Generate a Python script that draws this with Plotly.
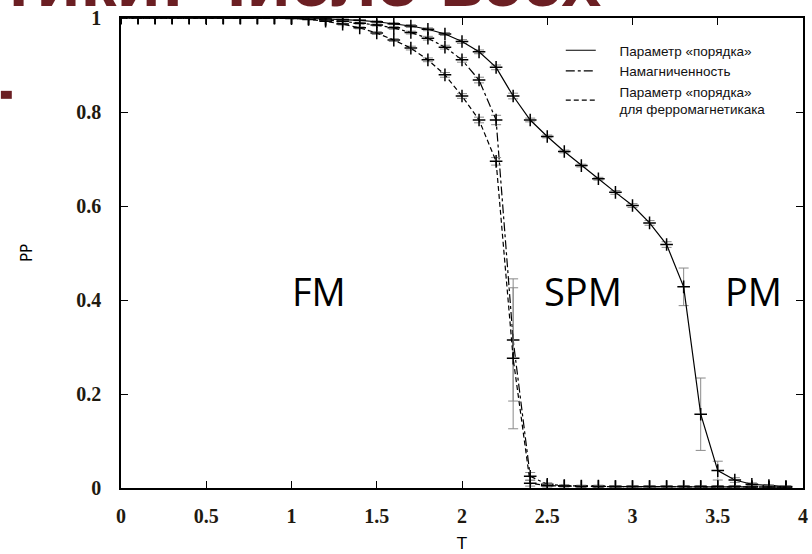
import plotly.graph_objects as go

# ---- data ----
T = [0.0, 0.1, 0.2, 0.3, 0.4, 0.5, 0.6, 0.7, 0.8, 0.9,
     1.0, 1.1, 1.2, 1.3, 1.4, 1.5, 1.6, 1.7, 1.8, 1.9,
     2.0, 2.1, 2.2, 2.3, 2.4, 2.5, 2.6, 2.7, 2.8, 2.9,
     3.0, 3.1, 3.2, 3.3, 3.4, 3.5, 3.6, 3.7, 3.8, 3.9]

order_param = [1.0, 1.0, 1.0, 1.0, 1.0, 1.0, 1.0, 1.0, 1.0, 1.0,
               1.0, 0.999, 0.998, 0.997, 0.995, 0.992, 0.988, 0.983, 0.976, 0.966,
               0.950, 0.928, 0.895, 0.834, 0.783, 0.748, 0.716, 0.686, 0.658, 0.629,
               0.601, 0.564, 0.518, 0.428, 0.157, 0.037, 0.017, 0.008, 0.005, 0.003]
order_err = [0, 0, 0, 0, 0, 0, 0, 0, 0, 0,
             0, 0, 0, 0, 0, 0.002, 0.002, 0.003, 0.003, 0.003,
             0.004, 0.004, 0.005, 0.006, 0.004, 0.003, 0.003, 0.003, 0.003, 0.004,
             0.004, 0.005, 0.006, 0.040, 0.077, 0.020, 0.005, 0.003, 0.002, 0.002]

magnetization = [1.0, 1.0, 1.0, 1.0, 1.0, 1.0, 1.0, 1.0, 1.0, 1.0,
                 1.0, 0.998, 0.996, 0.993, 0.989, 0.985, 0.979, 0.969, 0.957, 0.938,
                 0.911, 0.868, 0.783, 0.315, 0.025, 0.008, 0.005, 0.004, 0.004, 0.003,
                 0.003, 0.003, 0.003, 0.003, 0.003, 0.003, 0.003, 0.003, 0.002, 0.002]
mag_err = [0, 0, 0, 0, 0, 0, 0, 0, 0, 0,
           0, 0, 0, 0, 0.002, 0.002, 0.003, 0.003, 0.004, 0.004,
           0.005, 0.006, 0.010, 0.130, 0.008, 0.003, 0.002, 0.002, 0.002, 0.002,
           0.002, 0.002, 0.002, 0.002, 0.002, 0.002, 0.002, 0.002, 0.002, 0.002]

ferro_param = [1.0, 1.0, 1.0, 1.0, 1.0, 1.0, 1.0, 1.0, 1.0, 1.0,
               0.999, 0.997, 0.993, 0.987, 0.979, 0.968, 0.953, 0.936, 0.911, 0.879,
               0.834, 0.783, 0.695, 0.276, 0.010, 0.005, 0.004, 0.003, 0.003, 0.003,
               0.003, 0.003, 0.003, 0.003, 0.003, 0.003, 0.003, 0.002, 0.002, 0.002]
ferro_err = [0, 0, 0, 0, 0, 0, 0, 0, 0, 0,
             0, 0, 0, 0.002, 0.002, 0.003, 0.003, 0.004, 0.004, 0.005,
             0.005, 0.006, 0.008, 0.150, 0.006, 0.003, 0.002, 0.002, 0.002, 0.002,
             0.002, 0.002, 0.002, 0.002, 0.002, 0.002, 0.002, 0.002, 0.002, 0.002]

series_names = ["Параметр «порядка»", "Намагниченность",
                "Параметр «порядка»<br>для ферромагнетикака"]
region_labels = ["FM", "SPM", "PM"]
region_x = [1.16, 2.71, 3.71]
region_y = [0.42, 0.42, 0.42]
x_ticks = [0, 0.5, 1, 1.5, 2, 2.5, 3, 3.5, 4]
y_ticks = [0, 0.2, 0.4, 0.6, 0.8, 1]
heading = "тики: число всех"

W, H = 812, 554
ML, MR, MT, MB = 121, 4, 18, 65
PW, PH = W - ML - MR, H - MT - MB


def px_x(p):
    return (p - ML) / PW


def px_y(p):
    return (H - MB - p) / PH


fig = go.Figure()

dashes = ["solid", "dashdot", "5px,3px"]
ys = [order_param, magnetization, ferro_param]
errs = [order_err, mag_err, ferro_err]

for y, e, d in zip(ys, errs, dashes):
    fig.add_trace(go.Scatter(
        x=T, y=y, mode="lines+markers", showlegend=False,
        line=dict(color="black", width=1.2, dash=d),
        marker=dict(symbol="cross-thin", size=9,
                    line=dict(color="black", width=1.5)),
        error_y=dict(type="data", array=e, visible=True,
                     color="#8a8a8a", thickness=1, width=5),
        hoverinfo="skip",
    ))

pad = "\u00a0\u00a0\u00a0\u00a0\u00a0"
# legend-only traces (lines without markers, as in the reference)
for name, d in zip(series_names, dashes):
    fig.add_trace(go.Scatter(
        x=[None], y=[None], mode="lines",
        name=pad + name.replace("<br>", "<br>" + pad),
        line=dict(color="black", width=1.2, dash=d),
    ))

for lab, rx, ry in zip(region_labels, region_x, region_y):
    fig.add_annotation(x=rx, y=ry, xref="x", yref="y", text=lab,
                       showarrow=False,
                       font=dict(family="Open Sans", size=38, color="black"))

fig.add_annotation(x=px_x(-2), y=px_y(-19), xref="paper", yref="paper",
                   xanchor="left", yanchor="middle", text="<b>" + heading + "</b>",
                   showarrow=False,
                   font=dict(family="Liberation Sans", size=72, color="#6b1f23"))

fig.add_shape(type="rect", xref="paper", yref="paper",
              x0=px_x(0), x1=px_x(11), y0=px_y(99), y1=px_y(91),
              fillcolor="#6b1f23", line=dict(width=0), layer="above")

tickfont = dict(family="Liberation Serif", size=20, color="#1f1a10",
                weight="bold")

fig.update_layout(
    width=W, height=H,
    margin=dict(l=ML, r=MR, t=MT, b=MB),
    paper_bgcolor="white", plot_bgcolor="white",
    legend=dict(x=px_x(564), y=px_y(35), xanchor="left", yanchor="top",
                bgcolor="rgba(0,0,0,0)",
                font=dict(family="Liberation Sans", size=13.5, color="#111"),
                tracegroupgap=0, itemwidth=30),
    xaxis=dict(range=[0, 4], tickvals=x_ticks,
               ticktext=[f"{v:g}" for v in x_ticks],
               showgrid=False, zeroline=False, showline=True,
               linecolor="black", linewidth=1.5, mirror="ticks",
               ticks="inside", ticklen=7, tickcolor="black", tickwidth=1.3,
               tickfont=tickfont, ticklabelstandoff=9,
               title=dict(text="T", font=dict(family="DejaVu Sans", size=16,
                                              color="black"), standoff=12)),
    yaxis=dict(range=[0, 1], tickvals=y_ticks,
               ticktext=[f"{v:g}" for v in y_ticks],
               showgrid=False, zeroline=False, showline=True,
               linecolor="black", linewidth=1.5, mirror="ticks",
               ticks="inside", ticklen=7, tickcolor="black", tickwidth=1.3,
               tickfont=tickfont, ticklabelstandoff=14,
               title=dict(text="PP", font=dict(family="DejaVu Sans", size=15,
                                               color="black"), standoff=40)),
)

fig.write_html("out.html")
